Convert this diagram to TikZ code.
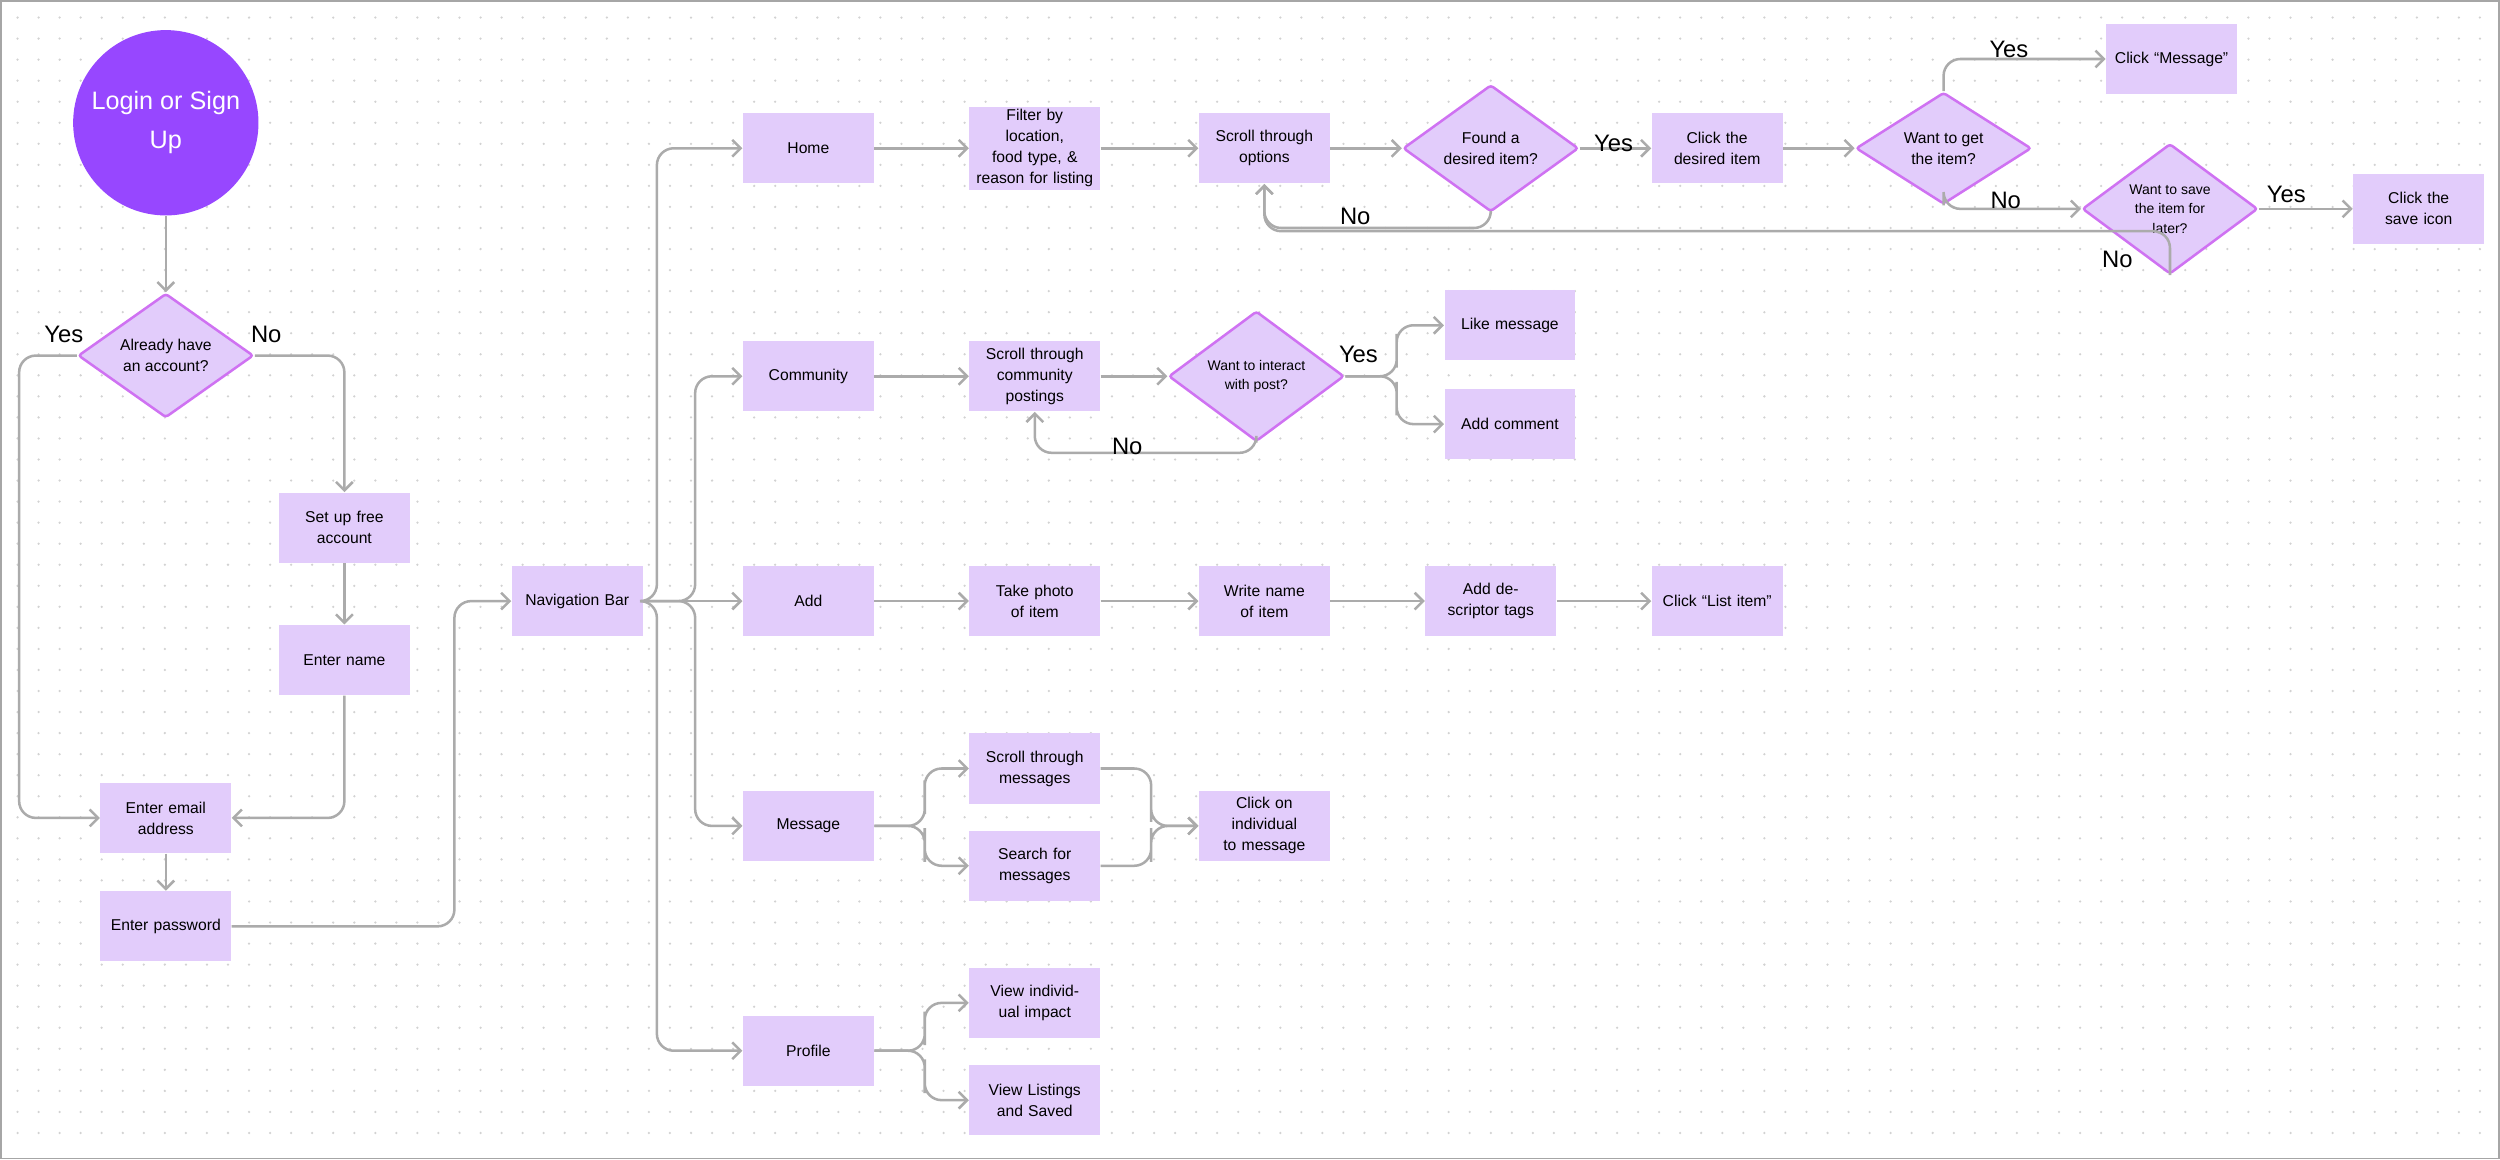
\documentclass[tikz,border=0pt]{standalone}
\usepackage{fontspec}
\setmainfont{Liberation Sans}
\usetikzlibrary{shapes.geometric,arrows.meta}
\definecolor{boxfill}{HTML}{E2CCFB}
\definecolor{dmdline}{HTML}{CF72F2}
\definecolor{startfill}{HTML}{9747FF}
\definecolor{wire}{HTML}{ABABAB}

\begin{document}
\begin{tikzpicture}[x=0.02cm,y=-0.02cm,
  task/.style={rectangle,fill=boxfill,minimum width=1.64cm,minimum height=0.88cm,
    text width=1.5cm,align=center,inner sep=1pt,font=\fontsize{5.6}{7.5}\selectfont},
  ask/.style={diamond,fill=boxfill,draw=dmdline,line width=0.9pt,minimum width=2.2cm,
    minimum height=1.36cm,inner sep=0pt,align=center,rounded corners=1pt,
    font=\fontsize{5.6}{7.5}\selectfont},
  link/.style={draw=wire,line width=0.9pt,rounded corners=6pt,-{Straight Barb[length=3pt,width=6pt]}},
  tag/.style={font=\fontsize{8.5}{10}\selectfont}]
   \useasboundingbox (0,0) rectangle (1568,727);
   \draw[gray!70,line width=0.6pt] (0.5,0.5) rectangle (1567.5,726.5);
   \foreach \i in {0,...,117}
     \foreach \j in {0,...,53}
       \fill[gray!35] (11+\i*13.2,11+\j*13.2) circle (0.45pt);
   % login part
   \node[circle,fill=startfill,minimum size=2.08cm,text=white,align=center,
     font=\fontsize{9}{14}\selectfont] (login) at (104,77) {Login or Sign\\Up};
   \node[ask] (have) at (104,223) {Already have\\an account?};
   \node[task] (setup) at (216,331) {Set up free account};
   \node[task] (name) at (216,414) {Enter name};
   \node[task] (email) at (104,513) {Enter email address};
   \node[task] (pass) at (104,581) {Enter password};
   \node[task] (nav) at (362,377) {Navigation Bar};
   % home row
   \node[task] (home) at (507,93) {Home};
   \node[task] (filter) at (649,93) {Filter by location, food type, \& reason for listing};
   \node[task] (scroll) at (793,93) {Scroll through options};
   \node[ask] (found) at (935,93) {Found a\\desired item?};
   \node[task] (click) at (1077,93) {Click the desired item};
   \node[ask] (get) at (1219,93) {Want to get\\the item?};
   \node[task] (msgbtn) at (1362,37) {Click ``Message''};
   \node[ask,font=\fontsize{5}{7}\selectfont] (save) at (1361,131) {Want to save\\the item for\\later?};
   \node[task] (saveicon) at (1517,131) {Click the save icon};
   % community row
   \node[task] (comm) at (507,236) {Community};
   \node[task] (posts) at (649,236) {Scroll through community postings};
   \node[ask,font=\fontsize{5}{7}\selectfont] (interact) at (788,236) {Want to interact\\with post?};
   \node[task] (like) at (947,204) {Like message};
   \node[task] (comment) at (947,266) {Add comment};
   % add row
   \node[task] (add) at (507,377) {Add};
   \node[task] (photo) at (649,377) {Take photo of item};
   \node[task] (write) at (793,377) {Write name of item};
   \node[task] (tags) at (935,377) {Add descriptor tags};
   \node[task] (list) at (1077,377) {Click ``List item''};
   % message row
   \node[task] (msg) at (507,518) {Message};
   \node[task] (msgs) at (649,482) {Scroll through messages};
   \node[task] (search) at (649,543) {Search for messages};
   \node[task] (indiv) at (793,518) {Click on individual to message};
   % profile row
   \node[task] (prof) at (507,659) {Profile};
   \node[task] (impact) at (649,629) {View individual impact};
   \node[task] (saved) at (649,690) {View Listings and Saved};
   % connectors
   \draw[link] (login) -- (have);
   \draw[link] (have.west) -| (12,513) -- (email.west);
   \draw[link] (have.east) -| (setup.north);
   \node[tag] (yes1) at (40,210) {Yes};
   \node[tag] (no1) at (167,210) {No};
   \draw[link] (setup) -- (name);
   \draw[link] (name.south) |- (email.east);
   \draw[link] (email) -- (pass);
   \draw[link] (pass.east) -| (285,377) -- (nav.west);
   \draw[link] (nav.east) -| (412,93) -- (home.west);
   \draw[link] (nav.east) -| (436,236) -- (comm.west);
   \draw[link] (nav) -- (add);
   \draw[link] (nav.east) -| (436,518) -- (msg.west);
   \draw[link] (nav.east) -| (412,659) -- (prof.west);
   \draw[link] (home) -- (filter);
   \draw[link] (filter) -- (scroll);
   \draw[link] (scroll) -- (found);
   \draw[link] (found) -- (click);
   \node[tag] (yes2) at (1012,90) {Yes};
   \draw[link] (found.south) |- (850,143) -| (scroll.south);
   \node[tag] (no2) at (850,136) {No};
   \draw[link] (click) -- (get);
   \draw[link] (get.north) |- (msgbtn.west);
   \node[tag] (yes3) at (1260,31) {Yes};
   \draw[link] (get.south) |- (save.west);
   \node[tag] (no3) at (1258,126) {No};
   \draw[link] (save) -- (saveicon);
   \node[tag] (yes4) at (1434,122) {Yes};
   \draw[link] (save.south) |- (1000,145) -| (scroll.south);
   \node[tag] (no4) at (1328,163) {No};
   \draw[link] (comm) -- (posts);
   \draw[link] (posts) -- (interact);
   \draw[link] (interact.east) -| (876,220) |- (like.west);
   \draw[link] (interact.east) -| (876,250) |- (comment.west);
   \node[tag] (yes5) at (852,222) {Yes};
   \draw[link] (interact.south) |- (700,284) -| (posts.south);
   \node[tag] (no5) at (707,280) {No};
   \draw[link] (add) -- (photo);
   \draw[link] (photo) -- (write);
   \draw[link] (write) -- (tags);
   \draw[link] (tags) -- (list);
   \draw[link] (msg.east) -| (580,500) |- (msgs.west);
   \draw[link] (msg.east) -| (580,530) |- (search.west);
   \draw[link] (msgs.east) -| (722,505) |- (indiv.west);
   \draw[link] (search.east) -| (722,530) |- (indiv.west);
   \draw[link] (prof.east) -| (580,645) |- (impact.west);
   \draw[link] (prof.east) -| (580,675) |- (saved.west);
\end{tikzpicture}
\end{document}
